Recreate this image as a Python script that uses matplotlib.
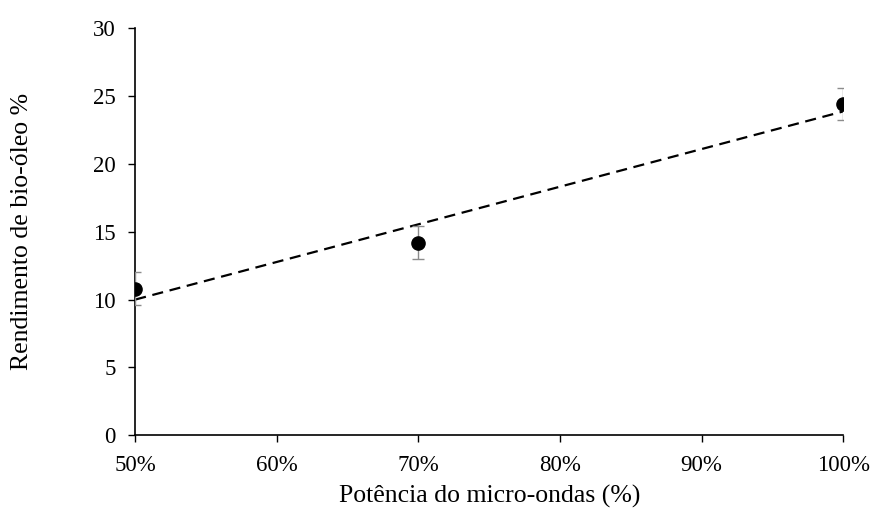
import matplotlib.pyplot as plt
import numpy as np
from matplotlib.ticker import PercentFormatter

# Data
potencia = [0.5, 0.7, 1.0]
rendimento = [10.8, 14.2, 24.4]
erro = [1.2, 1.2, 1.2]
x_ticks = [0.5, 0.6, 0.7, 0.8, 0.9, 1.0]
y_ticks = [0, 5, 10, 15, 20, 25, 30]


def main():
    plt.rcParams["font.family"] = ["Liberation Serif", "DejaVu Serif"]
    fig = plt.figure(figsize=(8.72, 5.12), dpi=100)
    ax = fig.add_axes([0.155, 0.150, 0.812, 0.795])

    # Linear trendline through the points
    coef = np.polyfit(potencia, rendimento, 1)
    trend = np.poly1d(coef)
    xs = np.array([min(potencia), max(potencia)])
    ax.plot(xs, trend(xs), color="black", linestyle=(0, (5, 3)), linewidth=1.6, zorder=2)

    ax.errorbar(potencia, rendimento, yerr=erro, fmt="none", ecolor="#8c8c8c",
                elinewidth=1.0, capsize=4.3, capthick=1.0, zorder=3)
    ax.plot(potencia, rendimento, "o", color="black", markersize=9.5, zorder=4)

    ax.set_xlim(0.5, 1.0)
    ax.set_ylim(0, 30)
    ax.set_xticks(x_ticks)
    ax.set_yticks(y_ticks)
    ax.xaxis.set_major_formatter(PercentFormatter(1.0, decimals=0))
    ax.tick_params(axis="both", direction="out", length=5, width=1, labelsize=16.5)
    ax.tick_params(axis="y", pad=9)
    ax.tick_params(axis="x", pad=9)

    for side in ["top", "right"]:
        ax.spines[side].set_visible(False)
    for side in ["left", "bottom"]:
        ax.spines[side].set_linewidth(1.2)

    ax.set_xlabel("Potência do micro-ondas (%)", fontsize=18.5, labelpad=7)
    ax.set_ylabel("Rendimento de bio-óleo %", fontsize=18.5, labelpad=43)

    fig.savefig("out.png", dpi=100)


if __name__ == '__main__':
    main()
